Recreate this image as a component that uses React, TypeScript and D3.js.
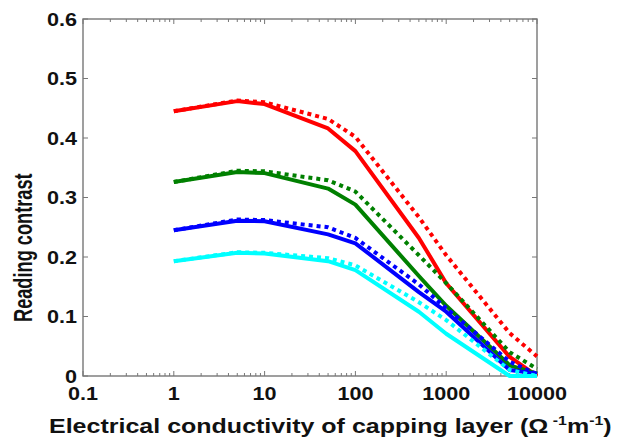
import React from 'react';
import * as d3 from 'd3';

// conductivity of capping layer (S/m) and reading contrast per curve
const conductivity = [1, 5, 10, 50, 100, 500, 1000, 5000, 10000];
const redSolid = [0.445, 0.462, 0.457, 0.416, 0.378, 0.232, 0.156, 0.032, 0.0];
const redDotted = [0.445, 0.463, 0.46, 0.432, 0.402, 0.267, 0.203, 0.072, 0.033];
const greenSolid = [0.326, 0.343, 0.341, 0.315, 0.288, 0.168, 0.118, 0.018, 0.004];
const greenDotted = [0.326, 0.345, 0.344, 0.329, 0.31, 0.203, 0.156, 0.04, 0.012];
const blueSolid = [0.245, 0.261, 0.26, 0.238, 0.223, 0.141, 0.108, 0.01, 0.004];
const blueDotted = [0.245, 0.263, 0.262, 0.25, 0.232, 0.154, 0.114, 0.024, 0.003];
const cyanSolid = [0.193, 0.207, 0.206, 0.193, 0.178, 0.108, 0.071, 0.0, 0.0];
const cyanDotted = [0.193, 0.208, 0.207, 0.198, 0.186, 0.124, 0.094, 0.01, 0.0];

const xTicks = [0.1, 1, 10, 100, 1000, 10000];
const yTicks = [0, 0.1, 0.2, 0.3, 0.4, 0.5, 0.6];

const curves = [
  { values: redSolid, color: '#ff0000', dotted: false },
  { values: redDotted, color: '#ff0000', dotted: true },
  { values: greenSolid, color: '#008000', dotted: false },
  { values: greenDotted, color: '#008000', dotted: true },
  { values: blueSolid, color: '#0000ff', dotted: false },
  { values: blueDotted, color: '#0000ff', dotted: true },
  { values: cyanSolid, color: '#00ffff', dotted: false },
  { values: cyanDotted, color: '#00ffff', dotted: true },
];

const W = 618;
const H = 439;
const left = 83, right = 537, top = 19, bottom = 376;
const font = '"Liberation Sans", Arial, sans-serif';
const sx = 1.2; // the original figure is stretched sideways

export default function App() {
  const x = d3.scaleLog().domain([0.1, 10000]).range([left, right]);
  const y = d3.scaleLinear().domain([0, 0.6]).range([bottom, top]);

  const line = d3.line<number>()
    .x((d, i) => x(conductivity[i]))
    .y(d => y(d));

  // minor ticks 2..9 in every decade
  const minor: number[] = [];
  for (let k = 0; k < xTicks.length - 1; k++) {
    for (let m = 2; m <= 9; m++) minor.push(xTicks[k] * m);
  }

  const axisColor = '#777';

  return (
    <svg width={W} height={H}
      style={{ display: 'block', position: 'absolute', left: 0, top: 0, background: '#fff' }}>
      <rect x={left} y={top} width={right - left} height={bottom - top}
        fill="none" stroke={axisColor} strokeWidth={1.4} />

      {minor.map((v, i) => (
        <g key={'m' + i} stroke={axisColor} strokeWidth={1}>
          <line x1={x(v)} x2={x(v)} y1={bottom} y2={bottom - 3} />
          <line x1={x(v)} x2={x(v)} y1={top} y2={top + 3} />
        </g>
      ))}
      {xTicks.map(v => (
        <g key={'xt' + v}>
          <line x1={x(v)} x2={x(v)} y1={bottom} y2={bottom - 5} stroke={axisColor} />
          <line x1={x(v)} x2={x(v)} y1={top} y2={top + 5} stroke={axisColor} />
          <text transform={`translate(${x(v)},400) scale(${sx},1)`} textAnchor="middle"
            fontFamily={font} fontWeight="bold" fontSize={18} fill="#111">{v}</text>
        </g>
      ))}
      {yTicks.map(v => (
        <g key={'yt' + v}>
          <line x1={left} x2={left + 5} y1={y(v)} y2={y(v)} stroke={axisColor} />
          <line x1={right} x2={right - 5} y1={y(v)} y2={y(v)} stroke={axisColor} />
          <text transform={`translate(77,${y(v) + 6.5}) scale(${sx},1)`} textAnchor="end"
            fontFamily={font} fontWeight="bold" fontSize={18} fill="#111">{v}</text>
        </g>
      ))}

      {curves.map((c, i) => (
        <path key={'c' + i} d={line(c.values) || ''} fill="none" stroke={c.color}
          strokeWidth={4} strokeDasharray={c.dotted ? '4,4' : undefined}
          strokeLinejoin="round" />
      ))}

      <text transform="translate(31.5,322) rotate(-90) scale(1,1.45)" fontFamily={font}
        fontWeight="bold" fontSize={18.2} fill="#111">Reading contrast</text>
      <text transform="translate(49,433) scale(1.22,1)" fontFamily={font}
        fontWeight="bold" fontSize={20.5} fill="#111">
        Electrical conductivity of capping layer (Ω
        <tspan fontSize={13} dy={-8}> -1</tspan>
        <tspan dy={8}>m</tspan>
        <tspan fontSize={13} dy={-8}>-1</tspan>
        <tspan dy={8}>)</tspan>
      </text>
    </svg>
  );
}
